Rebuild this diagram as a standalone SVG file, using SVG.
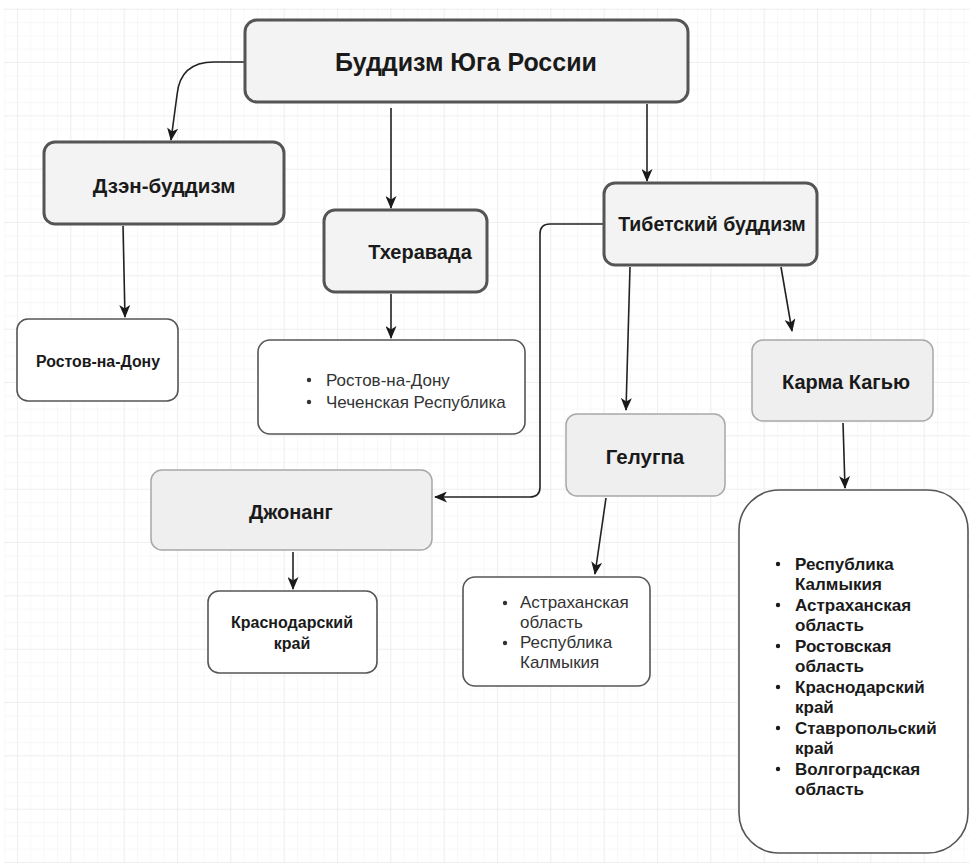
<svg xmlns="http://www.w3.org/2000/svg" width="970" height="863" viewBox="0 0 970 863">
<defs>
<pattern id="minor" x="3.7" y="8.7" width="13.333" height="13.333" patternUnits="userSpaceOnUse">
<path d="M0,0 H13.333 M0,0 V13.333" fill="none" stroke="#f2f2f2" stroke-width="1"/>
</pattern>
<pattern id="major" x="17" y="8.7" width="53.333" height="53.333" patternUnits="userSpaceOnUse">
<path d="M0,0 H53.333 M0,0 V53.333" fill="none" stroke="#e8e8e8" stroke-width="1.2"/>
</pattern>
<marker id="arr" viewBox="0 0 13 11" refX="12" refY="5.5" markerWidth="13" markerHeight="11" markerUnits="userSpaceOnUse" orient="auto">
<path d="M0,0 L13,5.5 L0,11 L3.5,5.5 Z" fill="#1a1a1a"/>
</marker>
</defs>
<style>
.main{fill:#f3f3f3;stroke:#555;stroke-width:3}
.sub{fill:#efefef;stroke:#a8a8a8;stroke-width:1.5}
.leaf{fill:#fff;stroke:#555;stroke-width:1.6}
.t{font-family:"Liberation Sans",Arial,sans-serif;font-weight:bold;fill:#1a1a1a;text-anchor:middle}
.l{font-family:"Liberation Sans",Arial,sans-serif;fill:#333;font-size:17px}
.lb{font-family:"Liberation Sans",Arial,sans-serif;font-weight:bold;fill:#1a1a1a;font-size:17px}
.c{fill:none;stroke:#222;stroke-width:1.6;marker-end:url(#arr)}
</style>
<rect width="970" height="863" fill="#fff"/>
<rect x="4" y="8" width="966" height="855" fill="url(#minor)"/>
<rect x="4" y="8" width="966" height="855" fill="url(#major)"/>

<g id="connectors">
<path class="c" d="M245,62 H214 Q180,62 177,95 L171,140"/>
<path class="c" d="M391,108 V208"/>
<path class="c" d="M647,104 V181"/>
<path class="c" d="M123,226 L125,317"/>
<path class="c" d="M391,294 V338"/>
<path class="c" d="M604,224 H550 Q540,224 540,234 V487 Q540,497 530,497 H435"/>
<path class="c" d="M630,267 L626,410"/>
<path class="c" d="M781,267 L792,331"/>
<path class="c" d="M293,552 V589"/>
<path class="c" d="M606,498 L595,574"/>
<path class="c" d="M843,423 L845,488"/>
</g>

<g id="root">
<rect class="main" x="245" y="20" width="443" height="82" rx="12" stroke-width="4"/>
<text class="t" x="466" y="71" font-size="25">Буддизм Юга России</text>
</g>
<g id="zen">
<rect class="main" x="44" y="142" width="240" height="82" rx="11"/>
<text class="t" x="164" y="193" font-size="20.5">Дзэн-буддизм</text>
</g>
<g id="theravada">
<rect class="main" x="324" y="210" width="163" height="82" rx="11"/>
<text class="t" x="420" y="259" font-size="20">Тхеравада</text>
</g>
<g id="tibet">
<rect class="main" x="604" y="183" width="213" height="82" rx="11"/>
<text class="t" x="712" y="231" font-size="19.5">Тибетский буддизм</text>
</g>
<g id="zen-rostov">
<rect class="leaf" x="17" y="319" width="161" height="82" rx="11"/>
<text class="t" x="98" y="367" font-size="16" textLength="124" lengthAdjust="spacingAndGlyphs">Ростов-на-Дону</text>
</g>
<g id="theravada-list">
<rect class="leaf" x="258" y="340" width="267" height="94" rx="12"/>
<circle cx="309" cy="380" r="2.2" fill="#333"/>
<circle cx="309" cy="402" r="2.2" fill="#333"/>
<text class="l" x="326" y="386">Ростов-на-Дону</text>
<text class="l" x="326" y="408">Чеченская Республика</text>
</g>
<g id="jonang">
<rect class="sub" x="151" y="470" width="281" height="80" rx="11"/>
<text class="t" x="291" y="519" font-size="20">Джонанг</text>
</g>
<g id="gelugpa">
<rect class="sub" x="566" y="414" width="159" height="82" rx="11"/>
<text class="t" x="645" y="464" font-size="20.5">Гелугпа</text>
</g>
<g id="karma">
<rect class="sub" x="752" y="340" width="181" height="81" rx="11"/>
<text class="t" x="846" y="389" font-size="20">Карма Кагью</text>
</g>
<g id="krasnodar">
<rect class="leaf" x="208" y="591" width="169" height="82" rx="11"/>
<text class="t" x="292" y="628" font-size="16">Краснодарский</text>
<text class="t" x="292" y="649" font-size="16">край</text>
</g>
<g id="gelugpa-list">
<rect class="leaf" x="463" y="577" width="187" height="109" rx="12"/>
<circle cx="505" cy="603" r="2.2" fill="#333"/>
<circle cx="505" cy="643" r="2.2" fill="#333"/>
<text class="l" x="520" y="608" font-size="16">Астраханская</text>
<text class="l" x="520" y="628" font-size="16">область</text>
<text class="l" x="520" y="648" font-size="16">Республика</text>
<text class="l" x="520" y="668" font-size="16">Калмыкия</text>
</g>
<g id="karma-list">
<rect class="leaf" x="739" y="490" width="229" height="363" rx="40"/>
<circle cx="778" cy="564" r="2.2" fill="#1a1a1a"/>
<circle cx="778" cy="605" r="2.2" fill="#1a1a1a"/>
<circle cx="778" cy="646" r="2.2" fill="#1a1a1a"/>
<circle cx="778" cy="687" r="2.2" fill="#1a1a1a"/>
<circle cx="778" cy="728" r="2.2" fill="#1a1a1a"/>
<circle cx="778" cy="769" r="2.2" fill="#1a1a1a"/>
<text class="lb" x="795" y="570">Республика</text>
<text class="lb" x="795" y="590">Калмыкия</text>
<text class="lb" x="795" y="611">Астраханская</text>
<text class="lb" x="795" y="631">область</text>
<text class="lb" x="795" y="652">Ростовская</text>
<text class="lb" x="795" y="672">область</text>
<text class="lb" x="795" y="693">Краснодарский</text>
<text class="lb" x="795" y="713">край</text>
<text class="lb" x="795" y="734">Ставропольский</text>
<text class="lb" x="795" y="754">край</text>
<text class="lb" x="795" y="775">Волгоградская</text>
<text class="lb" x="795" y="795">область</text>
</g>
</svg>
